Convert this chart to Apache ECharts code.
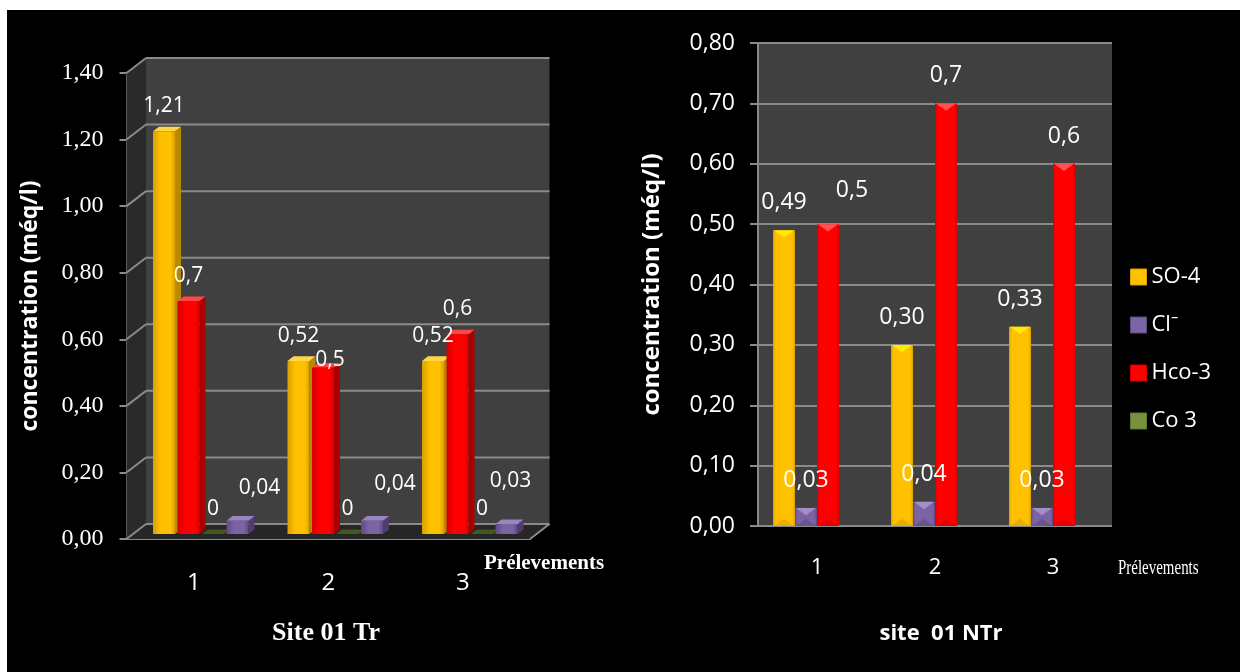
<!DOCTYPE html>
<html>
<head>
<meta charset="utf-8">
<script src="https://cdn.jsdelivr.net/npm/echarts@6/dist/echarts.min.js"></script>
<style>
  html, body { margin: 0; padding: 0; background: #fff; }
  #chart { width: 1240px; height: 672px; }
</style>
</head>
<body>
<div id="chart"></div>
<script>
// ---- data -------------------------------------------------------------
const samples = ['1', '2', '3'];
const ions = ['SO-4', 'Cl⁻', 'Hco-3', 'Co 3'];

// Site 01 Tr (méq/l)
const trSO4  = [1.21, 0.52, 0.52];
const trCl   = [0.04, 0.04, 0.03];
const trHCO3 = [0.7, 0.5, 0.6];
const trCO3  = [0, 0, 0];
const trTicks = [0, 0.2, 0.4, 0.6, 0.8, 1.0, 1.2, 1.4];

// site 01 NTr (méq/l)
const ntrSO4  = [0.49, 0.30, 0.33];
const ntrCl   = [0.03, 0.04, 0.03];
const ntrHCO3 = [0.5, 0.7, 0.6];
const ntrCO3  = [0, 0, 0];
const ntrTicks = [0, 0.1, 0.2, 0.3, 0.4, 0.5, 0.6, 0.7, 0.8];

// ---- styling ------------------------------------------------------------
const SANS = '"Open Sans", "Noto Sans", sans-serif';
const SERIF = '"Liberation Serif", "DejaVu Serif", serif';
const GRID_LINE = '#8a8a8a';
const WALL = '#404040';

const COLORS = {
  'SO-4':  { front: '#FFC000', edge: '#D9A000', side: '#B88A00', top: '#FFD54A', light: '#FFF000' },
  'Cl⁻':   { front: '#7B64A3', edge: '#5E4A85', side: '#4F3D70', top: '#9A85C0', light: '#A892CC' },
  'Hco-3': { front: '#FF0000', edge: '#D40000', side: '#A80000', top: '#FF4545', light: '#FF5A5A' },
  'Co 3':  { front: '#76923C', edge: '#5E7830', side: '#3A4A1C', top: '#46581F', light: '#A8C46A' }
};

// label nudges (px) where the default "above the bar" spot would collide
const trLabelShift = { 'Hco-3': [[0, 0], [7, 17], [0, 0]], 'Cl⁻': [[22, -8], [23, -12], [4, -18]] };
const ntrLabelShift = { 'Hco-3': [[24, -6], [0, 0], [0, 0]] };

function fmtValue(name, v) {
  const s = (name === 'SO-4' || name === 'Cl⁻') ? v.toFixed(2) : String(v);
  return s.replace('.', ',');
}
const axisFmt = v => v.toFixed(2).replace('.', ',');

// ---- left panel geometry (3D box) --------------------------------------
const WALL_DX = 19.5, WALL_DY = 15;       // depth of the box
const BAR_W_L = 22, STRIDE_L = 24.5;      // bar front width / spacing
const BAR_DX = 6, BAR_DY = 4.6;           // bar depth

function frameLeft(params, api) {
  const cs = params.coordSys;
  const L = cs.x, R = cs.x + cs.width, T = cs.y, B = cs.y + cs.height;
  const dx = WALL_DX, dy = WALL_DY;
  const ch = [];
  ch.push({ type: 'rect', shape: { x: L + dx, y: T - dy, width: cs.width, height: cs.height },
            style: { fill: WALL } });
  ch.push({ type: 'polygon', shape: { points: [[L, T], [L + dx, T - dy], [L + dx, B - dy], [L, B]] },
            style: { fill: '#2a2a2a' } });
  ch.push({ type: 'polygon', shape: { points: [[L, B], [L + dx, B - dy], [R + dx, B - dy], [R, B]] },
            style: { fill: '#262626' } });
  trTicks.forEach(t => {
    const y = api.coord([0, t])[1];
    ch.push({ type: 'line', shape: { x1: L + dx, y1: y - dy, x2: R + dx, y2: y - dy },
              style: { stroke: GRID_LINE, lineWidth: 2 } });
    ch.push({ type: 'line', shape: { x1: L, y1: y, x2: L + dx, y2: y - dy },
              style: { stroke: GRID_LINE, lineWidth: 2 } });
  });
  ch.push({ type: 'line', shape: { x1: R, y1: B, x2: R + dx, y2: B - dy },
            style: { stroke: GRID_LINE, lineWidth: 2 } });
  return { type: 'group', children: ch };
}

function bar3D(name, k) {
  const c = COLORS[name];
  return function (params, api) {
    const cat = api.value(0), v = api.value(1);
    const top = api.coord([cat, v]), base = api.coord([cat, 0]);
    const x0 = top[0] - (3 * STRIDE_L + BAR_W_L) / 2 + k * STRIDE_L;
    const w = BAR_W_L, yT = top[1], yB = base[1];
    const shift = (trLabelShift[name] || [])[params.dataIndex] || [0, 0];
    const ch = [];
    ch.push({ type: 'polygon',
      shape: { points: [[x0 + w, yT], [x0 + w + BAR_DX, yT - BAR_DY], [x0 + w + BAR_DX, yB - BAR_DY], [x0 + w, yB]] },
      style: { fill: c.side } });
    ch.push({ type: 'polygon',
      shape: { points: [[x0, yT], [x0 + BAR_DX, yT - BAR_DY], [x0 + w + BAR_DX, yT - BAR_DY], [x0 + w, yT]] },
      style: { fill: c.top } });
    ch.push({ type: 'rect',
      shape: { x: x0, y: yT, width: w, height: Math.max(yB - yT, 0) },
      style: { fill: new echarts.graphic.LinearGradient(0, 0, 1, 0, [
        { offset: 0, color: c.edge }, { offset: 0.35, color: c.front },
        { offset: 0.8, color: c.front }, { offset: 1, color: c.edge }]) },
      textContent: { type: 'text', style: { text: fmtValue(name, v), fill: '#ffffff',
        fontSize: 21, fontFamily: SANS, lineHeight: 21 } },
      textConfig: { position: 'top', distance: 14.5, offset: shift }
    });
    return { type: 'group', children: ch };
  };
}

// ---- right panel: bevelled flat bars ----------------------------------
const BAR_W_R = 22;

function bevelBar(name, k) {
  const c = COLORS[name];
  return function (params, api) {
    const cat = api.value(0), v = api.value(1);
    const top = api.coord([cat, v]), base = api.coord([cat, 0]);
    const w = BAR_W_R;
    const x0 = top[0] - 2 * w + k * w;
    const yT = top[1], yB = base[1], h = yB - yT;
    if (h <= 0) return { type: 'group', children: [] };
    const t = Math.min(w / 3, h / 2);
    const shift = (ntrLabelShift[name] || [])[params.dataIndex] || [0, 0];
    const ch = [];
    ch.push({ type: 'rect', shape: { x: x0, y: yT, width: w, height: h },
      style: { fill: new echarts.graphic.LinearGradient(0, 0, 1, 0, [
        { offset: 0, color: c.edge }, { offset: 0.12, color: c.front },
        { offset: 0.88, color: c.front }, { offset: 1, color: c.edge }]) },
      textContent: name === 'Co 3' ? undefined : { type: 'text', style: { text: fmtValue(name, v),
        fill: '#ffffff', fontSize: 23, fontFamily: SANS, lineHeight: 23 } },
      textConfig: { position: 'top', distance: 16, offset: shift }
    });
    ch.push({ type: 'polygon', shape: { points: [[x0 + 1, yT], [x0 + w - 1, yT], [x0 + w / 2, yT + t]] },
      style: { fill: c.light, opacity: 0.9 } });
    ch.push({ type: 'polygon', shape: { points: [[x0 + 1, yB], [x0 + w - 1, yB], [x0 + w / 2, yB - t]] },
      style: { fill: c.edge, opacity: 0.6 } });
    return { type: 'group', children: ch };
  };
}

const pairs = arr => arr.map((v, i) => [i, v]);

const trSeries = { 'SO-4': trSO4, 'Cl⁻': trCl, 'Hco-3': trHCO3, 'Co 3': trCO3 };
const ntrSeries = { 'SO-4': ntrSO4, 'Cl⁻': ntrCl, 'Hco-3': ntrHCO3, 'Co 3': ntrCO3 };
const trOrder = ['SO-4', 'Hco-3', 'Co 3', 'Cl⁻'];   // front-to-back order in the 3D panel
const ntrOrder = ['SO-4', 'Cl⁻', 'Hco-3', 'Co 3'];

const series = [];
series.push({ type: 'custom', name: 'frame', xAxisIndex: 0, yAxisIndex: 0, silent: true, z: 1,
  renderItem: frameLeft, data: [[0, 0]], encode: { x: 0, y: 1 } });
trOrder.forEach((n, k) => series.push({
  type: 'custom', name: n, xAxisIndex: 1, yAxisIndex: 1, z: 3,
  renderItem: bar3D(n, k), data: pairs(trSeries[n]), encode: { x: 0, y: 1 } }));
ntrOrder.forEach((n, k) => series.push({
  type: 'custom', name: n, xAxisIndex: 2, yAxisIndex: 2, z: 3,
  renderItem: bevelBar(n, k), data: pairs(ntrSeries[n]), encode: { x: 0, y: 1 } }));

const grayLine = { show: true, lineStyle: { color: GRID_LINE, width: 2 } };

const option = {
  backgroundColor: '#ffffff',
  animation: false,
  graphic: { elements: [
    { type: 'rect', z: -100, shape: { x: 7, y: 10, width: 1233, height: 662 }, style: { fill: '#000' } },
    { type: 'text', x: 326, y: 633, style: { text: 'Site 01 Tr', fill: '#fff', font: 'bold 26px ' + SERIF,
      textAlign: 'center', textVerticalAlign: 'middle' } },
    { type: 'text', x: 941, y: 634, style: { text: 'site  01 NTr', fill: '#fff', font: 'bold 22px ' + SANS,
      textAlign: 'center', textVerticalAlign: 'middle' } },
    { type: 'text', x: 484, y: 564, style: { text: 'Prélevements', fill: '#fff', font: 'bold 21px ' + SERIF,
      textAlign: 'left', textVerticalAlign: 'middle' } },
    { type: 'text', x: 1118, y: 568, scaleX: 0.68, style: { text: 'Prélevements', fill: '#fff', font: '22px ' + SERIF,
      textAlign: 'left', textVerticalAlign: 'middle' } }
  ] },
  legend: {
    orient: 'vertical', left: 1125, top: 260, itemWidth: 16, itemHeight: 16, itemGap: 24,
    selectedMode: false,
    textStyle: { color: '#fff', fontFamily: SANS, fontSize: 22, lineHeight: 24 },
    data: ions.map(n => ({ name: n, icon: 'rect', itemStyle: { color: COLORS[n].front, borderColor: COLORS[n].edge, borderWidth: 1 } }))
  },
  grid: [
    { left: 126.5, top: 73, width: 403.5, height: 466 },
    { left: 133.5, top: 68, width: 403.5, height: 466 },
    { left: 758, top: 43, width: 354, height: 483, show: true, backgroundColor: WALL, borderWidth: 0 }
  ],
  xAxis: [
    { type: 'category', gridIndex: 0, data: samples, axisLine: grayLine, axisTick: { show: false },
      axisLabel: { color: '#fff', fontFamily: SANS, fontSize: 24, margin: 32 } },
    { type: 'category', gridIndex: 1, data: samples, show: false },
    { type: 'category', gridIndex: 2, data: samples, axisLine: { show: false }, axisTick: { show: false },
      axisLabel: { color: '#fff', fontFamily: SANS, fontSize: 22, margin: 31 } }
  ],
  yAxis: [
    { type: 'value', gridIndex: 0, min: trTicks[0], max: trTicks[trTicks.length - 1], interval: trTicks[1] - trTicks[0],
      axisLine: grayLine, axisTick: { show: true, length: 7, lineStyle: { color: GRID_LINE, width: 2 } },
      splitLine: { show: false },
      axisLabel: { color: '#fff', fontFamily: SERIF, fontSize: 24, margin: 23, formatter: axisFmt },
      name: 'concentration (méq/l)', nameLocation: 'middle', nameGap: 85, nameRotate: 90,
      nameTextStyle: { color: '#fff', fontFamily: SANS, fontWeight: 'bold', fontSize: 23 } },
    { type: 'value', gridIndex: 1, min: trTicks[0], max: trTicks[trTicks.length - 1], show: false },
    { type: 'value', gridIndex: 2, min: ntrTicks[0], max: ntrTicks[ntrTicks.length - 1], interval: 0.1,
      axisLine: grayLine, axisTick: { show: true, length: 8, lineStyle: { color: GRID_LINE, width: 2 } },
      splitLine: { show: true, lineStyle: { color: GRID_LINE, width: 2 } },
      axisLabel: { color: '#fff', fontFamily: SANS, fontSize: 23, margin: 23, formatter: axisFmt },
      name: 'concentration (méq/l)', nameLocation: 'middle', nameGap: 94, nameRotate: 90,
      nameTextStyle: { color: '#fff', fontFamily: SANS, fontWeight: 'bold', fontSize: 24 } }
  ],
  series: series
};

const chart = echarts.init(document.getElementById('chart'));
chart.setOption(option);
</script>
</body>
</html>
